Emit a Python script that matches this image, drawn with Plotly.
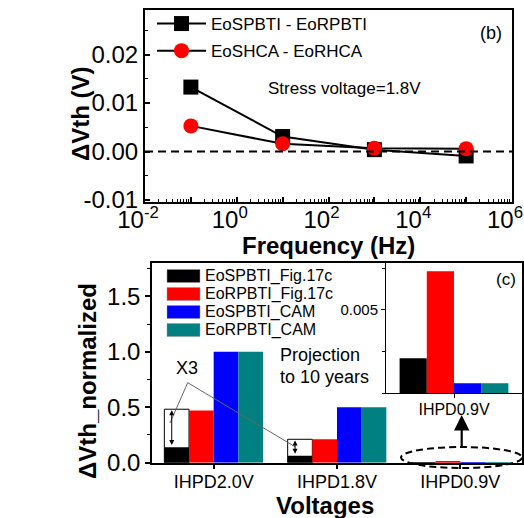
import plotly.graph_objects as go

W, H = 524, 518
def X(p):
    return p / W
def Y(p):
    return 1 - p / H

FONT = "Arial, Liberation Sans, sans-serif"

# ---------------- data: panel (b) ----------------
freq = [0.1, 10, 1000, 100000]
dvth_pbti = [0.0133, 0.0031, 0.0004, -0.0009]
dvth_hca = [0.0053, 0.0016, 0.0007, 0.0006]
series_b = ["EoSPBTI - EoRPBTI", "EoSHCA - EoRHCA"]
x_tickvals = [1e-2, 1e-1, 1e0, 1e1, 1e2, 1e3, 1e4, 1e5, 1e6]
x_ticktext = ["10<sup>-2</sup>", "", "10<sup>0</sup>", "", "10<sup>2</sup>", "",
              "10<sup>4</sup>", "", "10<sup>6</sup>"]
y_tickvals = [-0.01, 0.0, 0.01, 0.02]
y_ticktext = ["-0.01", "0.00", "0.01", "0.02"]

# ---------------- data: panel (c) ----------------
voltages = ["IHPD2.0V", "IHPD1.8V", "IHPD0.9V"]
eos_fig = [0.14, 0.063, 0.0021]
eor_fig = [0.47, 0.211, 0.0073]
eos_cam = [1.0, 0.5, 0.0006]
eor_cam = [1.0, 0.5, 0.0006]
bar_names = ["EoSPBTI_Fig.17c", "EoRPBTI_Fig.17c", "EoSPBTI_CAM", "EoRPBTI_CAM"]
bar_colors = ["#000000", "#ff0000", "#0000ff", "#008080"]
projected = [0.482, 0.211]      # "X3" projection outline heights
y2_tickvals = [0.0, 0.5, 1.0, 1.5]
y2_ticktext = ["0.0", "0.5", "1.0", "1.5"]

fig = go.Figure()

# panel (b)
fig.add_trace(go.Scatter(x=freq, y=dvth_pbti, name=series_b[0], mode="lines+markers",
                         line=dict(color="black", width=2),
                         marker=dict(symbol="square", size=15, color="black"),
                         xaxis="x", yaxis="y", legend="legend", legendgroup="a"))
fig.add_trace(go.Scatter(x=freq, y=dvth_hca, name=series_b[1], mode="lines+markers",
                         line=dict(color="black", width=2),
                         marker=dict(symbol="circle", size=15, color="red"),
                         xaxis="x", yaxis="y", legend="legend", legendgroup="b"))

# panel (c) main bars
series_c = [eos_fig, eor_fig, eos_cam, eor_cam]
for vals, nm, col in zip(series_c, bar_names, bar_colors):
    fig.add_trace(go.Bar(x=voltages, y=vals, name=nm, marker=dict(color=col, line=dict(width=0)),
                         xaxis="x2", yaxis="y2", showlegend=False))
# inset bars (IHPD0.9V)
for vals, nm, col in zip(series_c, bar_names, bar_colors):
    fig.add_trace(go.Bar(x=[voltages[2]], y=[vals[2]], name=nm,
                         marker=dict(color=col, line=dict(width=0)),
                         xaxis="x3", yaxis="y3", showlegend=False))

shapes = []
annotations = []

# zero dashed line in (b)
shapes.append(dict(type="line", xref="x domain", x0=0, x1=1, yref="y", y0=0, y1=0,
                   line=dict(color="black", width=2, dash="8px,5px")))

# manual legend for (c)
for i, (nm, col) in enumerate(zip(bar_names, bar_colors)):
    yc = 276 + 18 * i
    shapes.append(dict(type="rect", xref="paper", yref="paper",
                       x0=X(167), x1=X(200), y0=Y(yc + 6.5), y1=Y(yc - 6.5),
                       fillcolor=col, line=dict(width=0.5, color="#999999")))
    annotations.append(dict(text=nm, xref="paper", yref="paper", x=X(203), y=Y(yc),
                            xanchor="left", yanchor="middle", showarrow=False,
                            font=dict(size=16, family=FONT, color="black")))

# X3 projection outlines
for k, h in enumerate(projected):
    shapes.append(dict(type="rect", xref="x2", yref="y2", x0=k - 0.4, x1=k - 0.2,
                       y0=0, y1=h, line=dict(color="black", width=1), layer="below"))
    annotations.append(dict(text="", xref="x2", yref="y2", axref="x2", ayref="y2",
                            x=k - 0.34, y=h - 0.01, ax=k - 0.34, ay=series_c[0][k] + 0.005,
                            showarrow=True, arrowhead=2, arrowsize=1, arrowwidth=1,
                            arrowside="end+start", arrowcolor="black"))

# lines from X3 label
for (xe, ye) in [(170, 423), (295, 446.7)]:
    shapes.append(dict(type="line", xref="paper", yref="paper",
                       x0=X(187.7), y0=Y(382.7), x1=X(xe), y1=Y(ye),
                       line=dict(color="#666666", width=1)))

# dashed ellipse around IHPD0.9V
shapes.append(dict(type="circle", xref="paper", yref="paper",
                   x0=X(401), x1=X(522), y0=Y(468), y1=Y(447),
                   line=dict(color="black", width=2, dash="7px,4px")))

# arrow up to inset
annotations.append(dict(text="", xref="paper", yref="paper", axref="pixel", ayref="pixel",
                        x=X(461.7), y=Y(415), ax=0, ay=33,
                        showarrow=True, arrowhead=2, arrowsize=1.4, arrowwidth=2.2,
                        arrowcolor="black"))

def txt(t, x, y, size, bold=False, angle=0, xanchor="center"):
    annotations.append(dict(text=("<b>%s</b>" % t) if bold else t, xref="paper", yref="paper",
                            x=X(x), y=Y(y), xanchor=xanchor, yanchor="middle",
                            showarrow=False, textangle=angle,
                            font=dict(size=size, family=FONT, color="black")))

txt("ΔVth (V)", 80, 114, 24, bold=True, angle=-90)
txt("Frequency (Hz)", 328, 245, 24, bold=True)
txt("Stress voltage=1.8V", 344, 88, 17)
txt("(b)", 491, 33, 18)
txt("ΔVth_normalized", 87, 381, 24, bold=True, angle=-90)
txt("Voltages", 325, 505, 24, bold=True)
txt("Projection", 278, 355, 18, xanchor="left")
txt("to 10 years", 278, 377, 18, xanchor="left")
txt("X3", 187, 368, 18)
txt("(c)", 506, 279, 17)

axis_common = dict(showline=True, linecolor="black", mirror=True, showgrid=False,
                   zeroline=False, tickcolor="black", automargin=False)

fig.update_layout(
    width=W, height=H, margin=dict(l=0, r=0, t=0, b=0, autoexpand=False),
    paper_bgcolor="white", plot_bgcolor="white",
    font=dict(family=FONT, color="black"),
    barmode="group", bargap=0.2, bargroupgap=0,
    shapes=shapes, annotations=annotations,
    xaxis=dict(type="log", domain=[X(145), X(512)], range=[-2, 6], anchor="y",
               tickmode="array", tickvals=x_tickvals, ticktext=x_ticktext,
               ticks="inside", ticklen=5, tickwidth=1.5, linewidth=2,
               tickfont=dict(size=24), ticklabeloverflow="allow",
               ticklabelshift=-7, ticklabelstandoff=-5,
               minor=dict(ticks="inside", ticklen=3, tickwidth=1, dtick="D1", tickcolor="black"),
               **axis_common),
    yaxis=dict(domain=[Y(202), Y(10)], range=[-0.0104, 0.0292], anchor="x",
               tickmode="array", tickvals=y_tickvals, ticktext=y_ticktext,
               ticks="inside", ticklen=5, tickwidth=1.5, linewidth=2,
               tickfont=dict(size=24),
               minor=dict(ticks="inside", ticklen=3, tickwidth=1, dtick=0.005, tickcolor="black"),
               **axis_common),
    xaxis2=dict(type="category", domain=[X(152), X(522)], range=[-0.5, 2.5], anchor="y2",
                ticks="outside", ticklen=5, tickwidth=1.5, linewidth=1.5,
                tickfont=dict(size=18), ticklabelstandoff=-3, **axis_common),
    yaxis2=dict(domain=[Y(462.7), Y(263)], range=[0, 1.8], anchor="x2",
                tickmode="array", tickvals=y2_tickvals, ticktext=y2_ticktext,
                ticks="outside", ticklen=5, tickwidth=1.5, linewidth=1.5,
                tickfont=dict(size=24),
                minor=dict(ticks="outside", ticklen=3, tickwidth=1, dtick=0.25, tickcolor="black"),
                **axis_common),
    xaxis3=dict(type="category", domain=[X(386), X(522)], range=[-0.5, 0.5], anchor="y3",
                ticks="outside", ticklen=4, tickwidth=1, linewidth=1,
                tickfont=dict(size=16), ticklabelstandoff=-3, **axis_common),
    yaxis3=dict(domain=[Y(393.3), Y(263)], range=[0, 0.0078], anchor="x3",
                tickmode="array", tickvals=[0.005], ticktext=["0.005"],
                ticks="outside", ticklen=4, tickwidth=1, linewidth=1,
                tickfont=dict(size=15),
                minor=dict(ticks="outside", ticklen=3, tickwidth=1, dtick=0.0025, tickcolor="black"),
                **axis_common),
    legend=dict(x=X(152), y=Y(6), xanchor="left", yanchor="top",
                bgcolor="rgba(0,0,0,0)", font=dict(size=17),
                tracegroupgap=2, itemwidth=49),
)

fig.write_html("out.html")
